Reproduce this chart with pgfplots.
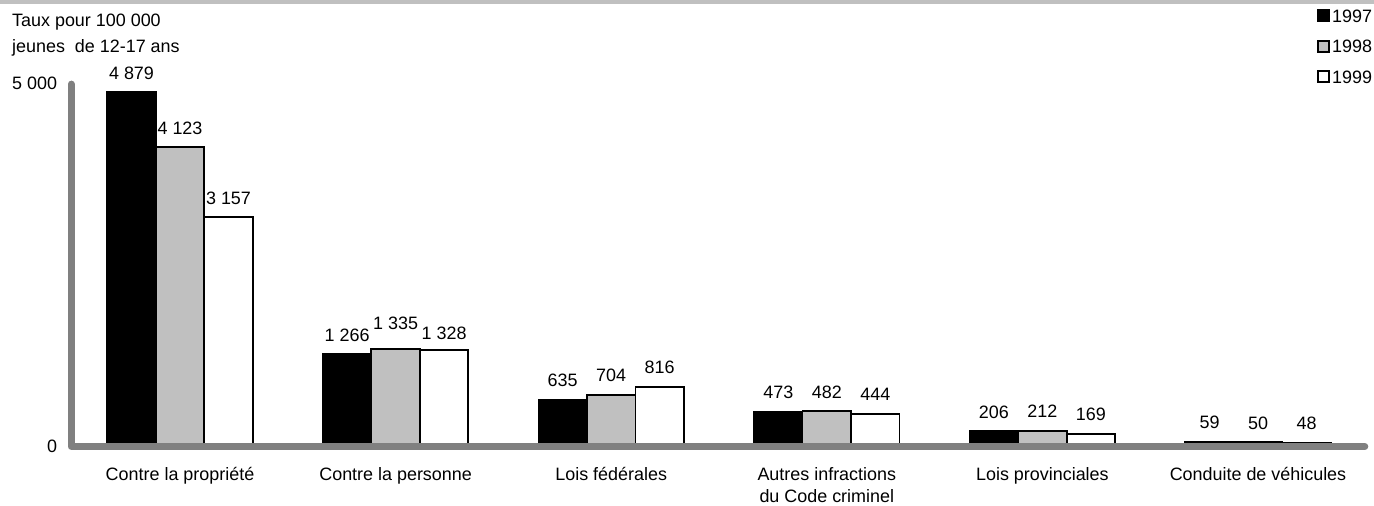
\documentclass[border=0pt]{standalone}
\usepackage{fontspec}
\setmainfont{Liberation Sans}
\usepackage{pgfplots}
\usepackage{pgfplotstable}
\pgfplotsset{compat=1.18}
\definecolor{axgray}{RGB}{128,128,128}
\definecolor{bargray}{RGB}{192,192,192}
\newcommand\ff{\fontsize{18}{22}\selectfont}
\pgfplotstableread{
x  v97  v98  v99  s97 s98 s99
0  4879 4123 3157 13 13 13
1  1266 1335 1328 13 20 10
2  635  704  816  13 13 13
3  473  482  444  13 13 13
4  206  212  169  13 13 13
5  59   50   48   13 13 13
}\data
\begin{document}
\begin{tikzpicture}[font=\ff]
\useasboundingbox (0,0) rectangle (1374bp,506bp);
\fill[bargray] (0,501.5bp) rectangle (1374bp,506bp);
\node[anchor=north west, inner sep=0pt, align=left, font=\fontsize{18}{26}\selectfont] at (12bp,492.5bp) {Taux pour 100 000\\jeunes\ \ de 12-17 ans};
\begin{axis}[
  at={(72.2bp,60bp)}, anchor=south west,
  x=215.6bp, y=0.0725bp,
  xmin=-0.5, xmax=5.5, ymin=0, ymax=5000,
  clip=false,
  ybar=0pt, bar width=48.5bp,
  axis line style={draw=none},
  tick style={draw=none},
  xtick={0,...,5},
  xticklabels={Contre la propriété, Contre la personne, Lois fédérales, {Autres infractions\\du Code criminel}, Lois provinciales, Conduite de véhicules},
  xticklabel style={align=center, anchor=north, inner sep=0pt, yshift=-17bp, font=\ff},
  ytick={0,5000}, yticklabels={0,5 000},
  yticklabel style={anchor=east, inner sep=0pt, xshift=-15bp, font=\ff},
  /pgf/number format/.cd, 1000 sep={\ }, assume math mode=true, /pgfplots/.cd,
  nodes near coords,
  point meta=y,
  every node near coord/.append style={anchor=base, inner sep=0pt, yshift=\lshift bp, font=\ff, text=black},
  legend image code/.code={\draw[#1, line width=1.8bp] (0bp,-4.5bp) rectangle (11bp,6.5bp);},
  legend style={at={(1.0056,1.2069)}, anchor=north east, draw=none, fill=none, inner sep=0pt, outer sep=0pt, row sep=14.5bp, column sep=1bp, font=\ff, nodes={inner sep=1bp}},
  legend cell align=left,
]
\addplot[fill=black, draw=black, line width=1.8bp, visualization depends on={\thisrow{s97}\as\lshift}] table[x=x,y=v97]{\data};
\addplot[fill=bargray, draw=black, line width=1.8bp, visualization depends on={\thisrow{s98}\as\lshift}] table[x=x,y=v98]{\data};
\addplot[fill=white, draw=black, line width=1.8bp, visualization depends on={\thisrow{s99}\as\lshift}] table[x=x,y=v99]{\data};
\legend{1997,1998,1999}
\draw[axgray, line width=7bp, line cap=round, line join=round, xshift=-1bp, yshift=-0.5bp] (axis cs:-0.5,5000) -- (axis cs:-0.5,0) -- (axis cs:5.5,0);
\end{axis}
\end{tikzpicture}
\end{document}
